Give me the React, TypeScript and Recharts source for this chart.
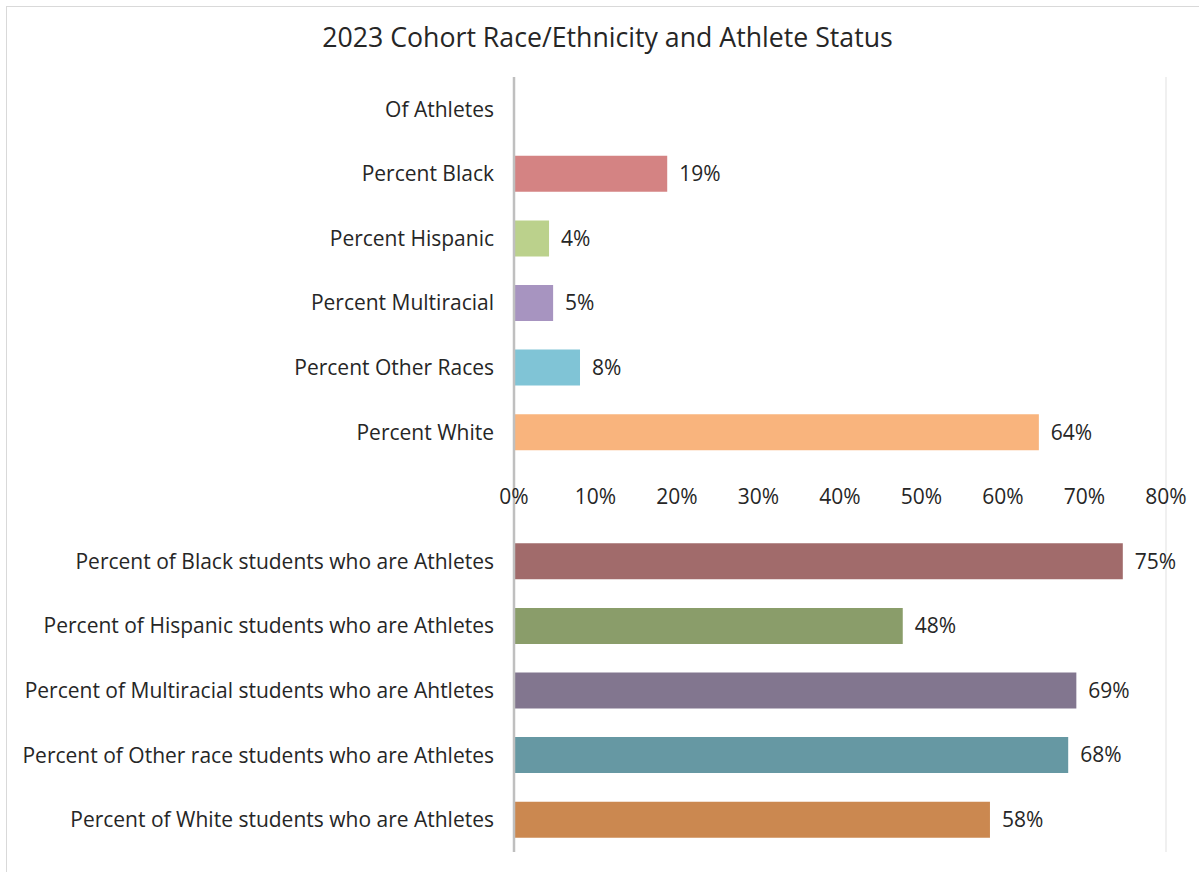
import React from "react";
import { BarChart, Bar, XAxis, YAxis, CartesianGrid, Cell, LabelList, ReferenceDot } from "recharts";

const categories = [
  "Of Athletes",
  "Percent Black",
  "Percent Hispanic",
  "Percent Multiracial",
  "Percent Other Races",
  "Percent White",
  " ",
  "Percent of Black students who are Athletes",
  "Percent of Hispanic students who are Athletes",
  "Percent of Multiracial students who are Ahtletes",
  "Percent of Other race students who are Athletes",
  "Percent of White students who are Athletes",
];

const values: (number | null)[] = [null, 0.188, 0.043, 0.048, 0.081, 0.644, null, 0.747, 0.477, 0.69, 0.68, 0.584];

const barColors = [
  "#ffffff",
  "#D48383",
  "#BBD18C",
  "#A794C0",
  "#80C4D6",
  "#F9B47D",
  "#ffffff",
  "#A16B6B",
  "#8A9D6A",
  "#82768F",
  "#6698A3",
  "#CB8850",
];

const xTicks = [0, 0.1, 0.2, 0.3, 0.4, 0.5, 0.6, 0.7, 0.8];

const data = categories.map((name, i) => ({ name, value: values[i] }));

const FONT = "'Open Sans', sans-serif";
const pct = (v: number) => `${Math.round(v * 100)}%`;

export default function App() {
  return (
    <div style={{ position: "absolute", left: 0, top: 0, width: 1199, height: 872, background: "#fff", fontFamily: FONT }}>
      <div
        style={{
          position: "absolute",
          left: 6,
          top: 6,
          width: 1300,
          height: 1000,
          border: "1.5px solid #D9D9D9",
          boxSizing: "border-box",
        }}
      />
      <div
        style={{
          position: "absolute",
          left: 0,
          width: 1215,
          top: 19,
          textAlign: "center",
          fontSize: 26.7,
          lineHeight: "36px",
          color: "#262626",
        }}
      >
        2023 Cohort Race/Ethnicity and Athlete Status
      </div>
      <div style={{ position: "absolute", left: 0, top: 0 }}>
        <BarChart
          width={1199}
          height={872}
          data={data}
          layout="vertical"
          margin={{ top: 77, right: 33, bottom: 20, left: 0 }}
          barCategoryGap="22%"
        >
          <CartesianGrid horizontal={false} stroke="#EBEBEB" strokeWidth={1.5} />
          <XAxis
            type="number"
            orientation="top"
            domain={[0, 0.8]}
            ticks={xTicks}
            height={0}
            tick={false}
            axisLine={false}
            tickLine={false}
          />
          <YAxis
            type="category"
            dataKey="name"
            width={514}
            tickSize={0}
            tickMargin={20}
            tickLine={false}
            axisLine={{ stroke: "#BFBFBF", strokeWidth: 2.5 }}
            tick={{ fill: "#262626", fontSize: 21, fontFamily: FONT }}
            interval={0}
          />
          <Bar dataKey="value" isAnimationActive={false}>
            {data.map((d, i) => (
              <Cell key={d.name} fill={barColors[i]} />
            ))}
            <LabelList
              dataKey="value"
              position="right"
              offset={12}
              formatter={(v: any) => (v == null ? "" : pct(v))}
              style={{ fill: "#262626", fontSize: 21, fontFamily: FONT }}
            />
          </Bar>
          {xTicks.map((t) => (
            <ReferenceDot
              key={t}
              x={t}
              y=" "
              r={0}
              fill="none"
              stroke="none"
              label={{ value: pct(t), position: "center", fill: "#262626", fontSize: 21, fontFamily: FONT }}
            />
          ))}
        </BarChart>
      </div>
    </div>
  );
}
